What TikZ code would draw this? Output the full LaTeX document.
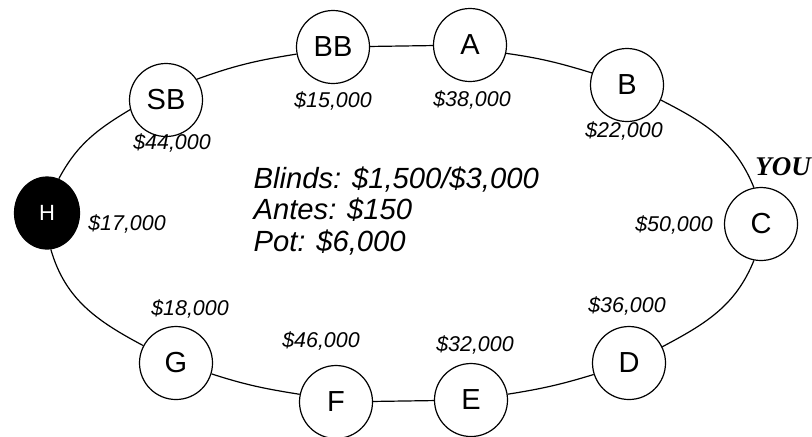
\documentclass[tikz,border=0pt]{standalone}
\usepackage{fontspec}
\setmainfont{Liberation Sans}
\newfontfamily\youfont{Liberation Serif}
\usetikzlibrary{shapes.geometric}
\begin{document}
\begin{tikzpicture}[x=0.5pt,y=-0.5pt,line width=0.6pt,
  seat/.style={circle,draw,fill=white,inner sep=0pt,minimum size=36.5pt,
    font=\fontsize{14.5}{16}\selectfont},
  hero/.style={ellipse,draw,fill=black,inner sep=0pt,minimum width=32.5pt,
    minimum height=36pt,text=white,font=\fontsize{11}{13}\selectfont},
  stack/.style={font=\fontsize{10.7}{12}\selectfont\itshape,inner sep=0pt},
  info/.style={font=\fontsize{14.6}{16}\selectfont\itshape,inner sep=0pt,anchor=base west},
  rail/.style={draw,line width=0.6pt}]
\useasboundingbox (0,0) rectangle (812,436);
% seats
\node[hero] (H) at (47,213) {H};
\node[seat] (SB) at (166,100) {SB};
\node[seat] (BB) at (333,47) {BB};
\node[seat] (A) at (470,45) {A};
\node[seat] (B) at (627,85) {B};
\node[seat] (C) at (761,224) {C};
\node[seat] (D) at (629,363) {D};
\node[seat] (E) at (471,400) {E};
\node[seat] (F) at (336,402) {F};
\node[seat] (G) at (176,363) {G};
% table rail
\path[rail] (H.71) to[out=62,in=211] (SB.195);
\path[rail] (SB.34) to[out=20,in=189] (BB.191);
\path[rail] (BB) -- (A);
\path[rail] (A.-13) to[out=-8,in=163] (B.161);
\path[rail] (B.-24) to[out=-27,in=112] (C.101);
\path[rail] (C.259) to[out=248,in=28] (D.26);
\path[rail] (D.198) to[out=197,in=9] (E.9);
\path[rail] (E) -- (F);
\path[rail] (F.168) to[out=171,in=-18] (G.-17);
\path[rail] (G.152) to[out=152,in=286] (H.276);
% chip stacks
\node[stack] (sH) at (127,224) {\$17,000};
\node[stack] (sSB) at (172,143) {\$44,000};
\node[stack] (sBB) at (333,101) {\$15,000};
\node[stack] (sA) at (472,100) {\$38,000};
\node[stack] (sB) at (624,131) {\$22,000};
\node[stack] (sC) at (674,225) {\$50,000};
\node[stack] (sD) at (627,306) {\$36,000};
\node[stack] (sE) at (475,345) {\$32,000};
\node[stack] (sF) at (321,341) {\$46,000};
\node[stack] (sG) at (190,309) {\$18,000};
% you
\node[font=\youfont\fontsize{13.5}{15}\selectfont\bfseries\itshape,inner sep=0pt] (you) at (783,167) {YOU};
% info
\node[info] (i1) at (253,188) {Blinds: \$1,500/\$3,000};
\node[info] (i2) at (253,219.5) {Antes: \$150};
\node[info] (i3) at (253,251) {Pot: \$6,000};
\end{tikzpicture}
\end{document}
